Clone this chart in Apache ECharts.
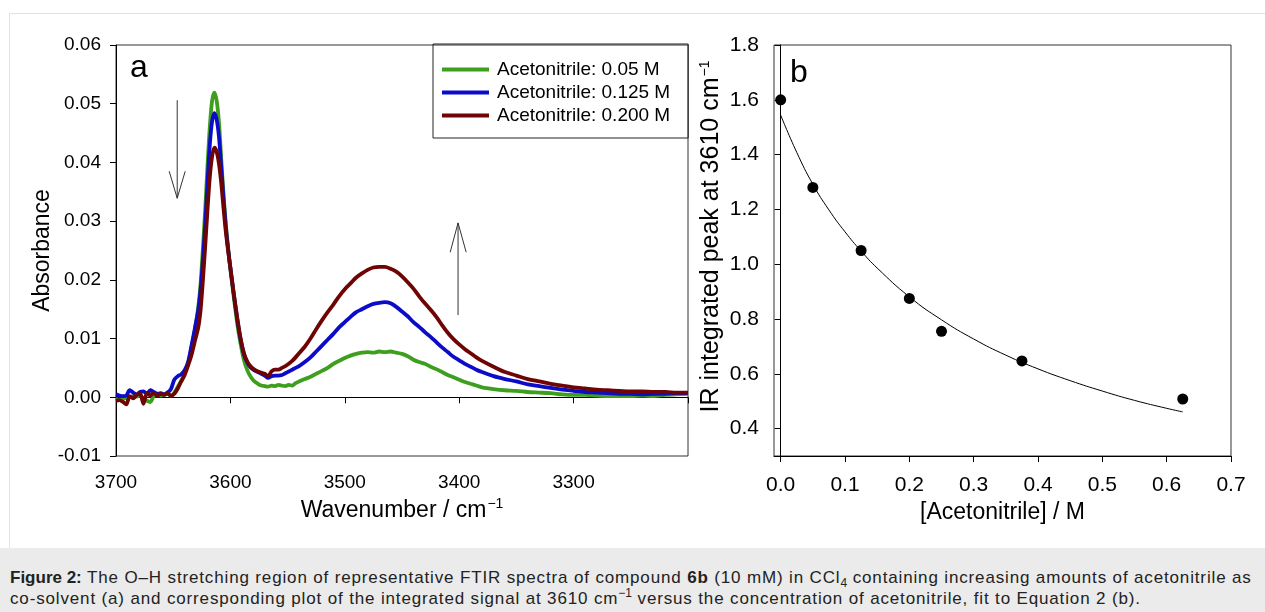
<!DOCTYPE html>
<html>
<head>
<meta charset="utf-8">
<script src="https://cdn.jsdelivr.net/npm/echarts@6/dist/echarts.min.js"></script>
<style>
  html, body { margin:0; padding:0; background:#fff; width:1265px; height:612px; overflow:hidden; }
  #frame { position:absolute; left:9px; top:13px; width:1256px; height:535px; border-left:1px solid #e2e2e2; border-top:1px solid #e2e2e2; box-sizing:border-box; }
  #chart { position:absolute; left:0; top:0; width:1265px; height:548px; }
  #caption { position:absolute; left:0; top:548px; width:1265px; height:64px; background:#ebebeb;
    font-family:"Liberation Sans", Arial, sans-serif; font-size:17px; letter-spacing:0.85px; color:#222; line-height:21px; padding:19px 0 0 10px; box-sizing:border-box; white-space:nowrap; }
  #caption b.fig { letter-spacing:0; }
  #caption sub, #caption sup { font-size:12px; line-height:0; letter-spacing:0; }
</style>
</head>
<body>
<div id="frame"></div>
<div id="chart"></div>
<div id="caption"><b class="fig">Figure 2:</b> The O–H stretching region of representative FTIR spectra of compound <b>6b</b> (10 mM) in CCl<sub>4</sub> containing increasing amounts of acetonitrile as<br>co-solvent (a) and corresponding plot of the integrated signal at 3610 cm<sup>−1</sup> versus the concentration of acetonitrile, fit to Equation 2 (b).</div>
<script>
// ---------- Panel a: FTIR spectra ----------
const wavenumbers = [3700,3697,3694,3691,3688,3685,3682,3679,3676,3673,3670,3667,3664,3661,3658,3655,3652,3649,3646,3643,3640,3637,3634,3631,3628,3626,3624,3622,3620,3618,3616,3614,3612,3610,3608,3606,3604,3602,3600,3597,3594,3591,3588,3585,3582,3579,3576,3573,3570,3567,3564,3561,3558,3555,3552,3549,3546,3543,3540,3535,3530,3525,3520,3515,3510,3505,3500,3495,3490,3485,3480,3475,3470,3465,3460,3455,3450,3445,3440,3435,3430,3425,3420,3415,3410,3405,3400,3395,3390,3385,3380,3370,3360,3350,3340,3330,3320,3310,3300,3290,3280,3270,3260,3250,3240,3230,3220,3210,3200];
const absGreen = [-0.0003,-0.0004,-0.0003,-0.0001,0.0000,0.0002,0.0001,0.0003,-0.0002,-0.0006,-0.0008,0.0002,0.0004,0.0003,0.0004,0.0006,0.0003,0.0008,0.0018,0.0028,0.0040,0.0058,0.0085,0.0115,0.0155,0.0195,0.0255,0.0320,0.0395,0.0460,0.0505,0.0519,0.0505,0.0468,0.0405,0.0345,0.0295,0.0255,0.0218,0.0170,0.0125,0.0090,0.0062,0.0045,0.0034,0.0027,0.0023,0.0020,0.0019,0.0018,0.0020,0.0019,0.0021,0.0020,0.0019,0.0021,0.0020,0.0024,0.0027,0.0031,0.0035,0.0040,0.0045,0.0050,0.0057,0.0062,0.0067,0.0071,0.0074,0.0076,0.0077,0.0076,0.0078,0.0077,0.0078,0.0076,0.0074,0.0070,0.0064,0.0060,0.0057,0.0052,0.0048,0.0043,0.0038,0.0034,0.0030,0.0026,0.0023,0.0020,0.0017,0.0014,0.0012,0.0011,0.0009,0.0008,0.0007,0.0005,0.0004,0.0004,0.0003,0.0002,0.0002,0.0002,0.0003,0.0002,0.0004,0.0005,0.0006];
const absBlue = [0.0005,0.0003,0.0002,0.0003,0.0012,0.0008,0.0005,0.0009,0.0010,0.0006,0.0012,0.0009,0.0006,0.0007,0.0005,0.0008,0.0014,0.0030,0.0036,0.0039,0.0046,0.0060,0.0088,0.0118,0.0150,0.0185,0.0235,0.0295,0.0365,0.0430,0.0470,0.0484,0.0473,0.0444,0.0392,0.0338,0.0290,0.0252,0.0220,0.0175,0.0133,0.0098,0.0072,0.0058,0.0050,0.0046,0.0043,0.0040,0.0037,0.0033,0.0036,0.0037,0.0037,0.0038,0.0041,0.0044,0.0047,0.0050,0.0053,0.0060,0.0068,0.0078,0.0088,0.0098,0.0108,0.0119,0.0128,0.0137,0.0145,0.0150,0.0155,0.0159,0.0161,0.0162,0.0160,0.0154,0.0146,0.0138,0.0128,0.0120,0.0111,0.0103,0.0094,0.0085,0.0077,0.0069,0.0063,0.0057,0.0052,0.0047,0.0043,0.0036,0.0031,0.0027,0.0022,0.0019,0.0016,0.0013,0.0011,0.0009,0.0008,0.0007,0.0006,0.0006,0.0005,0.0006,0.0006,0.0007,0.0007];
const absRed = [-0.0006,-0.0005,-0.0008,-0.0012,0.0002,-0.0002,0.0004,0.0006,-0.0011,0.0007,0.0003,0.0008,0.0002,0.0006,0.0004,0.0007,0.0002,0.0006,0.0015,0.0027,0.0038,0.0054,0.0072,0.0096,0.0120,0.0150,0.0200,0.0258,0.0320,0.0375,0.0410,0.0425,0.0418,0.0398,0.0365,0.0322,0.0282,0.0250,0.0220,0.0176,0.0135,0.0099,0.0074,0.0060,0.0052,0.0047,0.0044,0.0042,0.0040,0.0036,0.0044,0.0047,0.0047,0.0050,0.0053,0.0057,0.0062,0.0068,0.0075,0.0086,0.0100,0.0116,0.0131,0.0145,0.0158,0.0172,0.0184,0.0194,0.0204,0.0211,0.0217,0.0221,0.0222,0.0222,0.0219,0.0214,0.0206,0.0196,0.0185,0.0172,0.0160,0.0149,0.0137,0.0123,0.0110,0.0099,0.0090,0.0082,0.0075,0.0068,0.0062,0.0052,0.0043,0.0037,0.0031,0.0027,0.0023,0.0020,0.0017,0.0015,0.0013,0.0012,0.0011,0.0010,0.0010,0.0009,0.0009,0.0008,0.0008];
const seriesNames = ['Acetonitrile: 0.05 M', 'Acetonitrile: 0.125 M', 'Acetonitrile: 0.200 M'];
const wnTickLabels = [3700, 3600, 3500, 3400, 3300];
// annotation arrows (data coordinates): shaft + open head
const arrowDownShaft = [[3646.5, 0.0506], [3646.5, 0.0339]];
const arrowDownHead  = [[3653.5, 0.0385], [3646.5, 0.0339], [3639.5, 0.0385]];
const arrowUpShaft   = [[3401, 0.0140], [3401, 0.0297]];
const arrowUpHead    = [[3407.9, 0.0247], [3401, 0.0297], [3393.9, 0.0247]];

// ---------- Panel b: integrated peak vs concentration ----------
const concentration = [0, 0.05, 0.125, 0.2, 0.25, 0.375, 0.625];
const integratedPeak = [1.60, 1.28, 1.05, 0.875, 0.755, 0.647, 0.508];
const fitX = [0, 0.025, 0.05, 0.075, 0.1, 0.125, 0.15, 0.2, 0.25, 0.3, 0.35, 0.4, 0.45, 0.5, 0.55, 0.6, 0.625];
const fitY = [1.544, 1.408, 1.292, 1.198, 1.118, 1.048, 0.986, 0.881, 0.797, 0.727, 0.668, 0.618, 0.575, 0.537, 0.503, 0.474, 0.461];
const concTickValues = [0, 0.1, 0.2, 0.3, 0.4, 0.5, 0.6, 0.7];
const peakTickValues = [0.4, 0.6, 0.8, 1.0, 1.2, 1.4, 1.6, 1.8];

const FONT = '"Liberation Sans", Arial, sans-serif';
const colors = ['#3e9e1e', '#0c0cc8', '#6e0404'];
const pair = (xs, ys) => xs.map((x, i) => [x, ys[i]]);

const chart = echarts.init(document.getElementById('chart'), null, { renderer: 'canvas', width: 1265, height: 548 });

const axisLine = { show: true, lineStyle: { color: '#000', width: 1 } };
const axisTickOut = { show: true, inside: false, length: 6, lineStyle: { color: '#000', width: 1 } };
const noGrid = { show: false };
const supStyle = { fontSize: 14, verticalAlign: 'top', padding: [0, 0, 13, 1], fontFamily: FONT, color: '#000' };

const arrowStyle = { color: '#333', width: 1 };
function annot(data) {
  return { type: 'line', xAxisIndex: 0, yAxisIndex: 0, data: data, symbol: 'none', silent: true,
    lineStyle: arrowStyle, z: 1, animation: false };
}

const option = {
  animation: false,
  textStyle: { fontFamily: FONT },
  grid: [
    { left: 116, top: 45, width: 572, height: 411, show: true, borderColor: '#333', borderWidth: 1, containLabel: false },
    { left: 774, top: 45, width: 457, height: 411, show: true, borderColor: '#333', borderWidth: 1, containLabel: false }
  ],
  legend: {
    data: seriesNames,
    orient: 'vertical',
    left: 433, top: 44,
    padding: [16, 18, 13, 9],
    itemWidth: 47, itemHeight: 14, itemGap: 4,
    borderColor: '#222', borderWidth: 1,
    textStyle: { fontSize: 19, color: '#000', fontFamily: FONT, padding: [0, 0, 0, 3] },
    icon: 'path://M0,5.5 L47,5.5 L47,9.5 L0,9.5 Z',
    selectedMode: false
  },
  graphic: [
    { type: 'text', left: 130, top: 52, style: { text: 'a', font: '32px ' + FONT, fill: '#000' } },
    { type: 'text', left: 790, top: 57, style: { text: 'b', font: '32px ' + FONT, fill: '#000' } }
  ],
  xAxis: [
    { type: 'value', gridIndex: 0, min: 3200, max: 3700, interval: 100, inverse: true,
      axisLine: axisLine, axisTick: axisTickOut, splitLine: noGrid,
      axisLabel: { fontSize: 19, color: '#000', margin: 17, fontFamily: FONT,
        formatter: v => wnTickLabels.indexOf(v) >= 0 ? String(v) : '' },
      name: 'Wavenumber / cm{sup|−1}', nameLocation: 'middle', nameGap: 40,
      nameTextStyle: { fontSize: 23, color: '#000', fontFamily: FONT, rich: { sup: supStyle } } },
    { type: 'value', gridIndex: 1, min: -0.0104, max: 0.7,
      axisLine: axisLine, splitLine: noGrid,
      axisTick: Object.assign({}, axisTickOut, { customValues: concTickValues }),
      axisLabel: { fontSize: 21, color: '#000', margin: 19, fontFamily: FONT, customValues: concTickValues,
        formatter: v => v.toFixed(1) },
      name: '[Acetonitrile] / M', nameLocation: 'middle', nameGap: 41,
      nameTextStyle: { fontSize: 23, color: '#000', fontFamily: FONT } }
  ],
  yAxis: [
    { type: 'value', gridIndex: 0, min: -0.01, max: 0.06, interval: 0.01,
      axisLine: axisLine, axisTick: axisTickOut, splitLine: noGrid,
      axisLabel: { fontSize: 19, color: '#000', margin: 15, fontFamily: FONT, formatter: v => v.toFixed(2) },
      name: 'Absorbance', nameLocation: 'middle', nameGap: 59,
      nameTextStyle: { fontSize: 23, color: '#000', fontFamily: FONT } },
    { type: 'value', gridIndex: 1, min: 0.3, max: 1.8,
      axisLine: axisLine, splitLine: noGrid,
      axisTick: Object.assign({}, axisTickOut, { customValues: peakTickValues }),
      axisLabel: { fontSize: 21, color: '#000', margin: 15, fontFamily: FONT, customValues: peakTickValues,
        formatter: v => v.toFixed(1) },
      name: 'IR integrated peak at 3610 cm{sup|−1}', nameLocation: 'middle', nameGap: 49,
      nameTextStyle: { fontSize: 25, color: '#000', fontFamily: FONT, padding: [0, 0, 0, 28], rich: { sup: supStyle } } }
  ],
  series: [
    { name: seriesNames[0], type: 'line', xAxisIndex: 0, yAxisIndex: 0, data: pair(wavenumbers, absGreen),
      symbol: 'none', smooth: 0.3, lineStyle: { color: colors[0], width: 3.8 }, itemStyle: { color: colors[0] }, z: 2 },
    { name: seriesNames[1], type: 'line', xAxisIndex: 0, yAxisIndex: 0, data: pair(wavenumbers, absBlue),
      symbol: 'none', smooth: 0.3, lineStyle: { color: colors[1], width: 3.8 }, itemStyle: { color: colors[1] }, z: 3 },
    { name: seriesNames[2], type: 'line', xAxisIndex: 0, yAxisIndex: 0, data: pair(wavenumbers, absRed),
      symbol: 'none', smooth: 0.3, lineStyle: { color: colors[2], width: 3.8 }, itemStyle: { color: colors[2] }, z: 4 },
    annot(arrowDownShaft), annot(arrowDownHead), annot(arrowUpShaft), annot(arrowUpHead),
    { name: 'fit', type: 'line', xAxisIndex: 1, yAxisIndex: 1, data: pair(fitX, fitY), symbol: 'none', smooth: true,
      lineStyle: { color: '#000', width: 1 }, silent: true, z: 2 },
    { name: 'data', type: 'scatter', xAxisIndex: 1, yAxisIndex: 1, data: pair(concentration, integratedPeak),
      symbol: 'circle', symbolSize: 11, itemStyle: { color: '#000', opacity: 1 }, z: 3 }
  ]
};
chart.setOption(option);
</script>
</body>
</html>
